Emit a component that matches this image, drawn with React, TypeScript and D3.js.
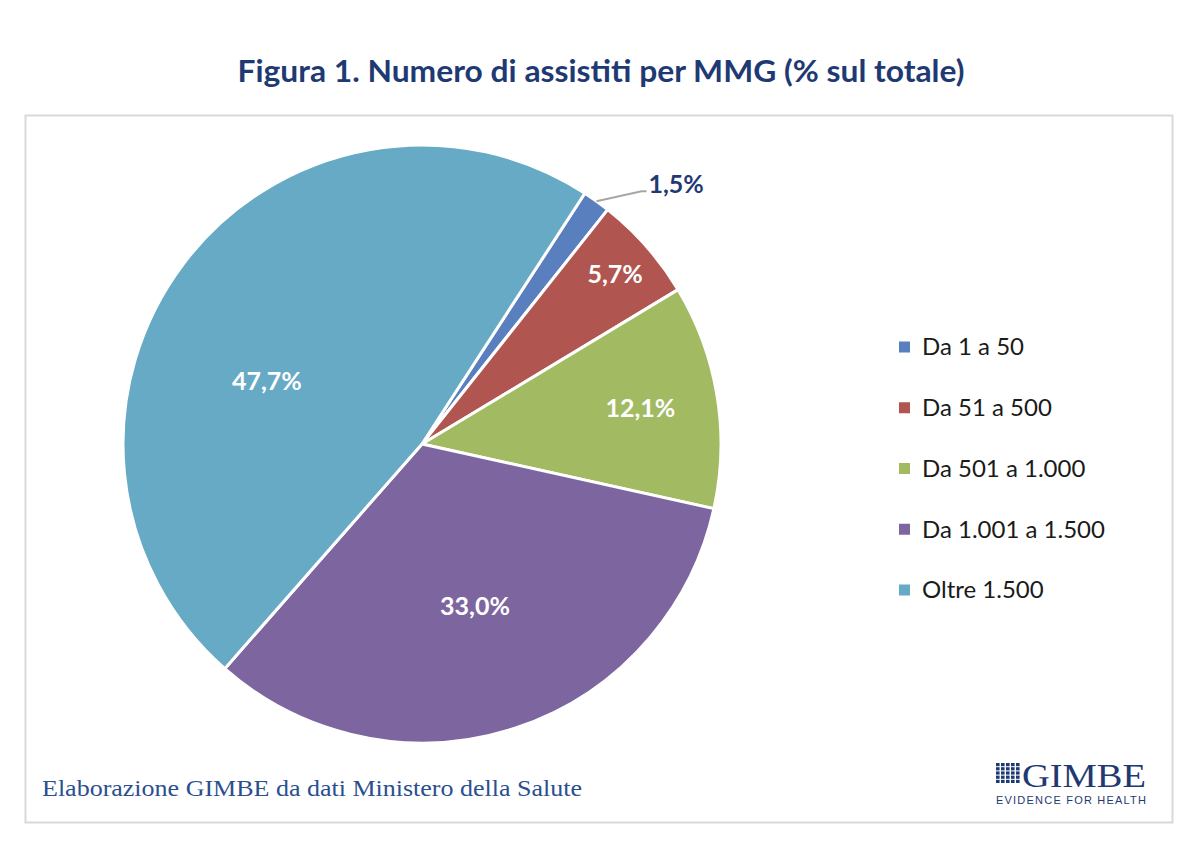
import React from "react";
import * as d3 from "d3";

const categories = ["Da 1 a 50", "Da 51 a 500", "Da 501 a 1.000", "Da 1.001 a 1.500", "Oltre 1.500"];
const values = [1.5, 5.7, 12.1, 33.0, 47.7];
const valueLabels = ["1,5%", "5,7%", "12,1%", "33,0%", "47,7%"];
const colors = ["#5A7FBE", "#B0554F", "#A2BB63", "#7D66A0", "#67AAC5"];

const title = "Figura 1. Numero di assistiti per MMG (% sul totale)";
const source = "Elaborazione GIMBE da dati Ministero della Salute";

// label placement config (fraction of radius, angle tweak in degrees)
const labelRadius = [1.0, 0.86, 0.74, 0.57, 0.56];
const labelAngleShift = [0, 0, 0, 0, -15];

export default function App() {
  const W = 1200, H = 844;
  const cx = 422, cy = 444, r = 299;
  const startDeg = 33;
  const toRad = (d: number) => (d * Math.PI) / 180;

  const pie = d3
    .pie<number>()
    .sort(null)
    .value((d) => d)
    .startAngle(toRad(startDeg))
    .endAngle(toRad(startDeg + 360));
  const arcs = pie(values);
  const arc = d3.arc<d3.PieArcDatum<number>>().innerRadius(0).outerRadius(r);

  const legendY = d3.scalePoint<string>().domain(categories).range([347, 590]);

  // GIMBE logo grid
  const grid = d3.range(5).flatMap((i) => d3.range(5).map((j) => [i, j]));

  const labelFont = "Lato, 'Open Sans', sans-serif";

  return (
    <svg width={W} height={H} style={{ position: "absolute", left: 0, top: 0, background: "#fff" }}>
      <rect x={0} y={0} width={W} height={H} fill="#fff" />
      <text
        x={601}
        y={82}
        textAnchor="middle"
        fontFamily={labelFont}
        fontWeight={700}
        fontSize={31}
        fill="#1F3A73"
        textLength={727}
        lengthAdjust="spacingAndGlyphs"
      >
        {title}
      </text>
      <rect x={25.5} y={115.5} width={1147} height={707} fill="none" stroke="#D9D9D9" strokeWidth={2} />

      <g transform={`translate(${cx},${cy})`}>
        {arcs.map((a, i) => (
          <path key={i} d={arc(a) || ""} fill={colors[i]} stroke="#fff" strokeWidth={3} strokeLinejoin="round" />
        ))}
        {arcs.map((a, i) => {
          const mid = (a.startAngle + a.endAngle) / 2 + toRad(labelAngleShift[i]);
          if (i === 0) {
            const x0 = Math.sin(mid) * r;
            const y0 = -Math.cos(mid) * r;
            const x1 = x0 + 45;
            const y1 = y0 - 10;
            return (
              <g key={i}>
                <polyline
                  points={`${x0},${y0} ${x1},${y1} ${x1 + 5},${y1}`}
                  fill="none"
                  stroke="#A6A6A6"
                  strokeWidth={2}
                />
                <text
                  x={x1 + 7}
                  y={y1 - 7}
                  dy="0.35em"
                  fontFamily={labelFont}
                  fontWeight={700}
                  fontSize={25}
                  fill="#1F3A73"
                >
                  {valueLabels[i]}
                </text>
              </g>
            );
          }
          const rr = r * labelRadius[i];
          return (
            <text
              key={i}
              x={Math.sin(mid) * rr}
              y={-Math.cos(mid) * rr}
              dy="0.35em"
              textAnchor="middle"
              fontFamily={labelFont}
              fontWeight={700}
              fontSize={25}
              fill="#fff"
            >
              {valueLabels[i]}
            </text>
          );
        })}
      </g>

      <g>
        {categories.map((c, i) => (
          <g key={c} transform={`translate(0,${legendY(c)})`}>
            <rect x={899} y={-5.5} width={11} height={11} fill={colors[i]} />
            <text x={922} y={0} dy="0.35em" fontFamily={labelFont} fontSize={24} fill="#1A1A1A">
              {c}
            </text>
          </g>
        ))}
      </g>

      <text
        x={42}
        y={796}
        fontFamily="'Liberation Serif', 'DejaVu Serif', serif"
        fontSize={24}
        fill="#2A4F8F"
        textLength={540}
        lengthAdjust="spacingAndGlyphs"
      >
        {source}
      </text>

      <g>
        {grid.map(([i, j]) => (
          <rect key={`${i}-${j}`} x={996 + j * 5} y={763 + i * 4.2} width={3.6} height={3.2} fill="#1F3A73" />
        ))}
        <text
          x={1022}
          y={787}
          fontFamily="'Liberation Serif', serif"
          fontSize={34}
          fill="#1F3A73"
          textLength={124}
          lengthAdjust="spacingAndGlyphs"
        >
          GIMBE
        </text>
        <text
          x={996}
          y={804}
          fontFamily="'Liberation Sans', sans-serif"
          fontSize={11}
          fill="#1F3A73"
          textLength={150}
          lengthAdjust="spacing"
        >
          EVIDENCE FOR HEALTH
        </text>
      </g>
    </svg>
  );
}
